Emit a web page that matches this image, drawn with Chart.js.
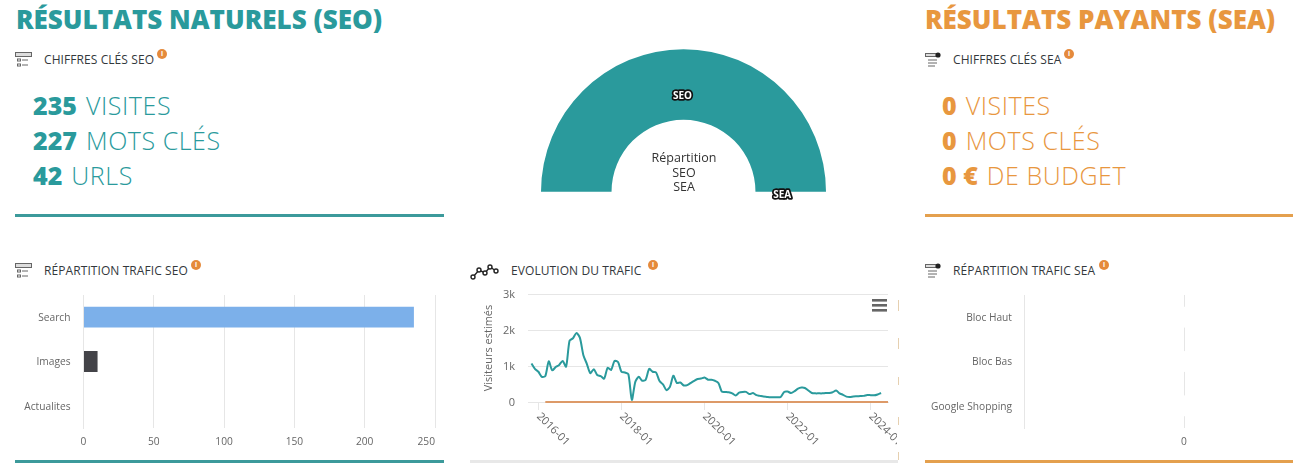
<!DOCTYPE html>
<html lang="fr">
<head>
<meta charset="utf-8">
<script src="https://cdn.jsdelivr.net/npm/chart.js@4"></script>
<style>
html,body{margin:0;padding:0;background:#fff;width:1293px;height:468px;overflow:hidden;font-family:"Open Sans",sans-serif}
.a{position:absolute;white-space:nowrap}
canvas{position:absolute;display:block}
.h1{font-weight:800;font-size:26px;line-height:34px}
.h2{font-size:12px;line-height:16px;color:#33383c;letter-spacing:.08px}
.st{font-size:25px;line-height:35px;font-weight:300;letter-spacing:.55px}
.st b{font-weight:800;letter-spacing:0;margin-right:2px}
.teal{color:#2a9a9c}.orange{color:#e8973f}
.rule{position:absolute;height:3px}
.bd{position:absolute;width:10px;height:10px;border-radius:50%;background:#e58a3c;color:#fff;font-size:7px;line-height:10px;text-align:center;font-weight:700}
.ic{position:absolute}
.tk{position:absolute;width:1px;left:898px;background:#e6d0b0}
</style>
</head>
<body>
<div class="a h1 teal" style="left:16px;top:2px">RÉSULTATS NATURELS (SEO)</div>
<div class="a h1 orange" style="left:925px;top:2px">RÉSULTATS PAYANTS (SEA)</div>

<svg class="ic" style="left:15px;top:52px" width="18" height="16" viewBox="0 0 18 16" fill="none" stroke="#666" stroke-width="1"><rect x=".5" y=".5" width="16" height="4" fill="#ddd"/><rect x="2.5" y="7" width="3" height="2"/><path d="M7 8h6"/><rect x="2.5" y="12" width="3" height="2"/><path d="M7 13h6"/></svg>
<div class="a h2" style="left:44px;top:52px">CHIFFRES CLÉS SEO</div><div class="bd" style="left:157px;top:49px">i</div>

<svg class="ic" style="left:925px;top:52px" width="18" height="16" viewBox="0 0 18 16" fill="none" stroke="#666" stroke-width="1"><rect x=".5" y="1.5" width="11" height="3" fill="#ddd"/><circle cx="13" cy="3" r="2.6" fill="#222" stroke="none"/><path d="M3 8h9M3 11h9M3 14h7"/></svg>
<div class="a h2" style="left:953px;top:52px">CHIFFRES CLÉS SEA</div><div class="bd" style="left:1064px;top:49px">i</div>

<div class="a st teal" style="left:33px;top:88px"><b>235</b> VISITES</div>
<div class="a st teal" style="left:33px;top:123px"><b>227</b> MOTS CLÉS</div>
<div class="a st teal" style="left:33px;top:158px"><b>42</b> URLS</div>
<div class="a st orange" style="left:942px;top:88px"><b>0</b> VISITES</div>
<div class="a st orange" style="left:942px;top:123px"><b>0</b> MOTS CLÉS</div>
<div class="a st orange" style="left:942px;top:158px"><b>0 €</b> DE BUDGET</div>

<div class="rule" style="left:15px;top:214px;width:429px;background:#3c9a9b"></div>
<div class="rule" style="left:925px;top:214px;width:368px;background:#e4a04e"></div>

<svg class="ic" style="left:15px;top:263px" width="18" height="16" viewBox="0 0 18 16" fill="none" stroke="#666" stroke-width="1"><rect x=".5" y=".5" width="16" height="4" fill="#ddd"/><rect x="2.5" y="7" width="3" height="2"/><path d="M7 8h6"/><rect x="2.5" y="12" width="3" height="2"/><path d="M7 13h6"/></svg>
<div class="a h2" style="left:44px;top:263px">RÉPARTITION TRAFIC SEO</div><div class="bd" style="left:191px;top:260px">i</div>

<svg class="ic" style="left:470px;top:262px" width="30" height="18" viewBox="0 0 30 18" fill="none" stroke="#222" stroke-width="1.4"><path d="M3 15L9 8L15 11L20 5L26 9"/><circle cx="3" cy="15" r="2" fill="#fff"/><circle cx="9" cy="8" r="2" fill="#fff"/><circle cx="15" cy="11" r="2" fill="#fff"/><circle cx="20" cy="5" r="2" fill="#fff"/><circle cx="26" cy="9" r="2" fill="#fff"/></svg>
<div class="a h2" style="left:511px;top:263px">EVOLUTION DU TRAFIC</div><div class="bd" style="left:648px;top:260px">i</div>

<svg class="ic" style="left:925px;top:263px" width="18" height="16" viewBox="0 0 18 16" fill="none" stroke="#666" stroke-width="1"><rect x=".5" y="1.5" width="11" height="3" fill="#ddd"/><circle cx="13" cy="3" r="2.6" fill="#222" stroke="none"/><path d="M3 8h9M3 11h9M3 14h7"/></svg>
<div class="a h2" style="left:953px;top:263px">RÉPARTITION TRAFIC SEA</div><div class="bd" style="left:1099px;top:260px">i</div>

<canvas id="donut" width="310" height="165" style="left:530px;top:40px"></canvas>
<div class="a" style="left:624px;top:151px;width:120px;text-align:center;font-size:12.5px;line-height:14.5px;color:#333;white-space:normal">Répartition<br>SEO<br>SEA</div>

<canvas id="barSeo" width="428" height="175" style="left:15px;top:285px"></canvas>
<canvas id="lineTraffic" width="427" height="175" style="left:470px;top:285px"></canvas>
<canvas id="barSea" width="440" height="175" style="left:925px;top:285px"></canvas>

<svg class="ic" style="left:872px;top:299px" width="15" height="13" viewBox="0 0 15 13" fill="#666"><rect width="15" height="2.6" y="0"/><rect width="15" height="2.6" y="5"/><rect width="15" height="2.6" y="10"/></svg>
<div class="tk" style="top:300px;height:11px"></div>
<div class="tk" style="top:338px;height:11px"></div>
<div class="tk" style="top:377px;height:8px"></div>
<div class="tk" style="top:417px;height:8px"></div>
<div class="tk" style="top:452px;height:8px"></div>

<div class="rule" style="left:15px;top:460px;width:429px;background:#3c9a9b"></div>
<div class="rule" style="left:470px;top:460px;width:428px;background:#e8e8e8"></div>
<div class="rule" style="left:925px;top:460px;width:368px;background:#e4a04e"></div>

<script>
const donutLabels = ['SEO', 'SEA'];
const donutValues = [235, 0];
const donutColors = ['#2a9a9c', '#e8973f'];

const seoCategories = ['Search', 'Images', 'Actualites'];
const seoValues = [235, 10, 0];
const seoColors = ['#7cb0ea', '#434348', '#90ed7d'];
const seoTicks = [0, 50, 100, 150, 200, 250];

const seaCategories = ['Bloc Haut', 'Bloc Bas', 'Google Shopping'];
const seaValues = [0, 0, 0];
const seaTicks = [0];

const months = [
'2015-10','2015-11','2015-12',
'2016-01','2016-02','2016-03','2016-04','2016-05','2016-06','2016-07','2016-08','2016-09','2016-10','2016-11','2016-12',
'2017-01','2017-02','2017-03','2017-04','2017-05','2017-06','2017-07','2017-08','2017-09','2017-10','2017-11','2017-12',
'2018-01','2018-02','2018-03','2018-04','2018-05','2018-06','2018-07','2018-08','2018-09','2018-10','2018-11','2018-12',
'2019-01','2019-02','2019-03','2019-04','2019-05','2019-06','2019-07','2019-08','2019-09','2019-10','2019-11','2019-12',
'2020-01','2020-02','2020-03','2020-04','2020-05','2020-06','2020-07','2020-08','2020-09','2020-10','2020-11','2020-12',
'2021-01','2021-02','2021-03','2021-04','2021-05','2021-06','2021-07','2021-08','2021-09','2021-10','2021-11','2021-12',
'2022-01','2022-02','2022-03','2022-04','2022-05','2022-06','2022-07','2022-08','2022-09','2022-10','2022-11','2022-12',
'2023-01','2023-02','2023-03','2023-04','2023-05','2023-06','2023-07','2023-08','2023-09','2023-10','2023-11','2023-12',
'2024-01','2024-02','2024-03','2024-04','2024-05','2024-06'];
const monthTicks = ['2016-01', '2018-01', '2020-01', '2022-01', '2024-01'];
const seoTraffic = [null,1070,920,
840,700,720,1130,880,970,1030,1140,980,1700,1770,1920,
1780,1300,1060,800,910,750,720,650,950,890,1140,1110,
840,820,770,60,560,700,590,620,920,840,820,580,
490,330,420,730,530,540,460,470,530,590,640,650,
680,620,620,590,530,290,280,270,240,180,260,280,
280,220,250,190,170,150,140,130,130,130,140,280,
290,250,300,370,400,390,320,250,240,240,240,250,
250,270,320,240,200,150,140,155,160,165,170,195,
190,185,210,250,null,null];
const seaTraffic = [null,null,null,
null,null,0,0,0,0,0,0,0,0,0,0,
0,0,0,0,0,0,0,0,0,0,0,0,
0,0,0,0,0,0,0,0,0,0,0,0,
0,0,0,0,0,0,0,0,0,0,0,0,
0,0,0,0,0,0,0,0,0,0,0,0,
0,0,0,0,0,0,0,0,0,0,0,0,
0,0,0,0,0,0,0,0,0,0,0,0,
0,0,0,0,0,0,0,0,0,0,0,0,
0,0,0,0,0,0];
const trafficTicks = [0, 1000, 2000, 3000];

Chart.defaults.font.family = '"Open Sans", sans-serif';
Chart.defaults.font.size = 10.2;
Chart.defaults.color = '#666';
Chart.defaults.animation = false;
Chart.defaults.responsive = false;
Chart.defaults.plugins.legend.display = false;
Chart.defaults.plugins.tooltip.enabled = false;

const GRID = '#e6e6e6';
const fixSize = (w, h) => s => {
  if (w) s.width = w;
  if (h) s.height = h;
  s.paddingLeft = s.paddingRight = s.paddingTop = s.paddingBottom = 0;
};
const only = list => s => { s.ticks = list.map(v => ({value: v})); };
const lastLabelRight = list => s => {
  only(list)(s);
  if (s._rightWrapped) return;
  s._rightWrapped = true;
  const orig = s.getLabelItems;
  s.getLabelItems = function (area) {
    const items = orig.call(this, area);
    if (items.length) items[items.length - 1].options.textAlign = 'right';
    return items;
  };
};
const nudgeLabels = dy => s => {
  if (s._nudged) return;
  s._nudged = true;
  const orig = s._computeLabelItems;
  s._computeLabelItems = function (area) {
    const items = orig.call(this, area);
    items.forEach(it => { it.options.translation = [it.options.translation[0], it.options.translation[1] + dy]; });
    return items;
  };
};

const sliceLabels = {
  id: 'sliceLabels',
  afterDatasetsDraw(chart) {
    const ctx = chart.ctx;
    ctx.save();
    ctx.font = 'bold 10px "Open Sans", sans-serif';
    ctx.textAlign = 'center';
    ctx.textBaseline = 'middle';
    chart.getDatasetMeta(0).data.forEach((arc, i) => {
      const p = arc.getCenterPoint();
      const x = arc.x + (p.x - arc.x) * 0.92 - (i === 0 ? 1 : 0);
      const y = arc.y + (p.y - arc.y) * 0.92 + 3;
      ctx.lineJoin = 'round';
      ctx.lineWidth = 3.5;
      ctx.strokeStyle = '#111';
      ctx.strokeText(donutLabels[i], x, y);
      ctx.fillStyle = '#fff';
      ctx.fillText(donutLabels[i], x, y);
    });
    ctx.restore();
  }
};

new Chart(document.getElementById('donut'), {
  type: 'doughnut',
  plugins: [sliceLabels],
  data: {labels: donutLabels, datasets: [{data: donutValues, backgroundColor: donutColors, borderWidth: 0}]},
  options: {
    rotation: -90, circumference: 180, cutout: '50.5%',
    layout: {padding: {left: 11, right: 14, top: 9, bottom: 13}}
  }
});

new Chart(document.getElementById('barSeo'), {
  type: 'bar',
  data: {labels: seoCategories, datasets: [{data: seoValues, backgroundColor: seoColors, categoryPercentage: 1, barPercentage: 0.47}]},
  options: {
    indexAxis: 'y',
    layout: {padding: {top: 10, right: 8, left: 0, bottom: 0}},
    scales: {
      x: {min: 0, max: 250, afterBuildTicks: lastLabelRight(seoTicks), afterFit: fixSize(0, 32),
          grid: {color: GRID, drawTicks: false}, border: {display: false},
          ticks: {padding: 8, color: '#666', maxRotation: 0}},
      y: {afterBuildTicks: nudgeLabels(1), afterFit: fixSize(68.5, 0), grid: {display: false}, border: {color: GRID},
          ticks: {padding: 5, color: '#666'}}
    }
  }
});

new Chart(document.getElementById('barSea'), {
  type: 'bar',
  data: {labels: seaCategories, datasets: [{data: seaValues, backgroundColor: '#fff', minBarLength: 4, categoryPercentage: 1, barPercentage: 0.47}]},
  options: {
    indexAxis: 'y',
    layout: {padding: {top: 10, right: 21, left: 0, bottom: 0}},
    scales: {
      x: {min: -1, max: 1, afterBuildTicks: only(seaTicks), afterFit: fixSize(0, 32),
          grid: {color: GRID, drawTicks: false}, border: {display: false},
          ticks: {padding: 8, color: '#666', maxRotation: 0}},
      y: {afterBuildTicks: nudgeLabels(1), afterFit: fixSize(99, 0), grid: {display: false}, border: {color: GRID},
          ticks: {padding: 4, color: '#666'}}
    }
  }
});

new Chart(document.getElementById('lineTraffic'), {
  type: 'line',
  data: {labels: months, datasets: [
    {data: seaTraffic, borderColor: '#dd9a68', borderWidth: 2, pointRadius: 0, tension: 0, clip: false},
    {data: seoTraffic, borderColor: '#2a9a9c', borderWidth: 2, pointRadius: 0, tension: 0.25}
  ]},
  options: {
    layout: {padding: {top: 9, right: 9, left: 0, bottom: 0}},
    scales: {
      x: {
        type: 'category', offset: false,
        afterBuildTicks(s) {
          s.ticks = monthTicks.map(m => ({value: months.indexOf(m)}));
          s._getXAxisLabelAlignment = () => 'left';
        },
        afterFit: fixSize(0, 58),
        grid: {drawOnChartArea: false, color: GRID, tickLength: 8, tickColor: GRID},
        border: {color: GRID, z: -1},
        ticks: {autoSkip: false, minRotation: -45, maxRotation: -45, padding: 0, color: '#666', font: {size: 11}}
      },
      y: {
        min: 0, max: 3000,
        afterBuildTicks(s) { only(trafficTicks)(s); nudgeLabels(1)(s); },
        afterFit: fixSize(58, 0),
        title: {display: true, text: 'Visiteurs estimés', color: '#666', font: {size: 11}, padding: {top: 12, bottom: 0}},
        grid: {color: GRID, drawTicks: false},
        border: {display: false},
        ticks: {padding: 13, color: '#666', font: {size: 11}, callback: v => v === 0 ? '0' : (v / 1000) + 'k'}
      }
    }
  }
});
</script>
</body>
</html>
